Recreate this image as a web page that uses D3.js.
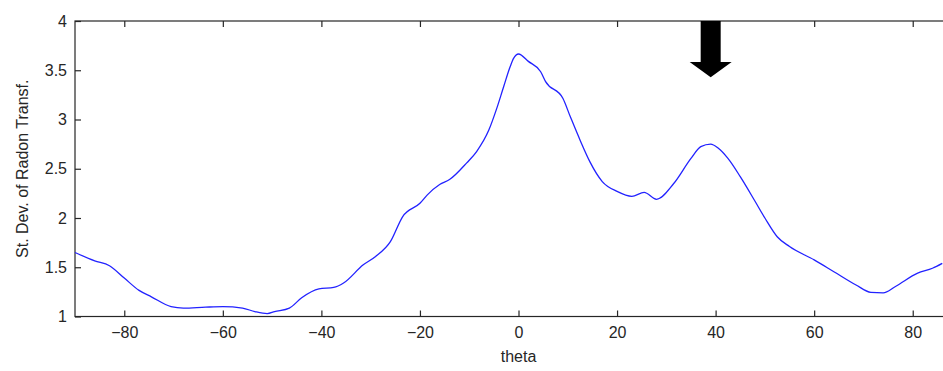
<!DOCTYPE html>
<html>
<head>
<meta charset="utf-8">
<script src="https://cdn.jsdelivr.net/npm/d3@7"></script>
<style>
  body { margin: 0; background: #fff; }
  svg { display: block; font-family: "Liberation Sans", Arial, sans-serif; }
</style>
</head>
<body>
<svg id="chart"></svg>
<script>
// values
const theta = [-90, -86, -83, -80, -77, -74.5, -70.5, -68, -63.5, -60, -56, -53.5, -51, -49.5, -46.5, -44,
  -40.5, -37.5, -35.5, -31.5, -29, -26, -23.5, -20, -18.5, -16, -14, -10.5, -8.5, -6, -4.5, -3, -1.7, -1,
  0, 2, 4.5, 5.5, 9, 10.5, 12.5, 14.5, 17, 20, 23, 25.5, 28, 31.5, 35, 37, 39, 40.5, 42.5, 45, 48, 50,
  52.5, 55, 60, 64, 68.5, 71.5, 74, 76.5, 81, 84, 86];
const stdev = [1.65, 1.565, 1.515, 1.39, 1.265, 1.2, 1.1, 1.085, 1.095, 1.1, 1.085, 1.05, 1.03, 1.05, 1.085, 1.19,
  1.28, 1.295, 1.34, 1.525, 1.61, 1.76, 2.015, 2.15, 2.235, 2.34, 2.39, 2.56, 2.675, 2.895, 3.1, 3.335, 3.535, 3.62,
  3.665, 3.59, 3.485, 3.385, 3.215, 3.03, 2.79, 2.57, 2.37, 2.27, 2.22, 2.26, 2.19, 2.35, 2.605, 2.725, 2.75, 2.71, 2.605, 2.42, 2.17, 2.0,
  1.81, 1.71, 1.575, 1.455, 1.32, 1.245, 1.24, 1.305, 1.44, 1.49, 1.54];
const xTicks = [-80, -60, -40, -20, 0, 20, 40, 60, 80];
const yTicks = [1, 1.5, 2, 2.5, 3, 3.5, 4];
const arrowTheta = 39;

width = 943;
height = 371;
margin = ({ top: 21, left: 75, bottom: 54.5 });

const svg = d3.select("#chart")
    .attr("width", width)
    .attr("height", height);

// axis box runs to theta = 90, which lies past the right edge
x = d3.scaleLinear().domain([-90, 90]).range([margin.left, 962]);
y = d3.scaleLinear().domain([1, 4]).range([height - margin.bottom, margin.top]);

const axisColor = "#262626";

svg.append("rect")
    .attr("x", x(-90)).attr("y", y(4))
    .attr("width", x(90) - x(-90)).attr("height", y(1) - y(4))
    .attr("fill", "none").attr("stroke", axisColor).attr("stroke-width", 1.2);

const styleAxis = g => g
    .call(g => g.select(".domain").remove())
    .call(g => g.selectAll("line").attr("stroke", axisColor).attr("stroke-width", 1.2))
    .call(g => g.selectAll("text").attr("fill", axisColor).attr("font-size", 16).attr("font-family", null));

svg.append("g")
    .attr("transform", `translate(0,${y(1)})`)
    .call(d3.axisBottom(x).tickValues(xTicks).tickSizeInner(-6).tickSizeOuter(0).tickPadding(10))
    .call(styleAxis);

svg.append("g")
    .attr("transform", `translate(0,${y(4)})`)
    .call(d3.axisTop(x).tickValues(xTicks).tickSizeInner(-6).tickSizeOuter(0).tickFormat(""))
    .call(styleAxis);

svg.append("g")
    .attr("transform", `translate(${x(-90)},0)`)
    .call(d3.axisLeft(y).tickValues(yTicks).tickSizeInner(-6).tickSizeOuter(0).tickPadding(8).tickFormat(d => d))
    .call(styleAxis);

// labels
svg.append("text")
    .attr("x", x(0)).attr("y", 362)
    .attr("text-anchor", "middle")
    .attr("font-size", 16).attr("fill", axisColor)
    .text("theta");

svg.append("text")
    .attr("transform", `translate(28,${(y(1) + y(4)) / 2}) rotate(-90)`)
    .attr("text-anchor", "middle")
    .attr("font-size", 16).attr("fill", axisColor)
    .text("St. Dev. of Radon Transf.");

// curve
const data = theta.map((t, i) => ({ t: t, v: stdev[i] }));

svg.append("path")
    .datum(data)
    .attr("fill", "none")
    .attr("stroke", "#2222ff")
    .attr("stroke-width", 1.3)
    .attr("d", d3.line().curve(d3.curveMonotoneX).x(d => x(d.t)).y(d => y(d.v)));

// arrow pointing at the second peak
const ax = x(arrowTheta);
const shaftEnd = y(3.585), tip = y(3.43);
svg.append("path")
    .attr("fill", "#000")
    .attr("d", `M${ax - 10},${y(4)} L${ax + 10},${y(4)} L${ax + 10},${shaftEnd} L${ax + 21},${shaftEnd}
      L${ax},${tip} L${ax - 21},${shaftEnd} L${ax - 10},${shaftEnd} Z`);
</script>
</body>
</html>
